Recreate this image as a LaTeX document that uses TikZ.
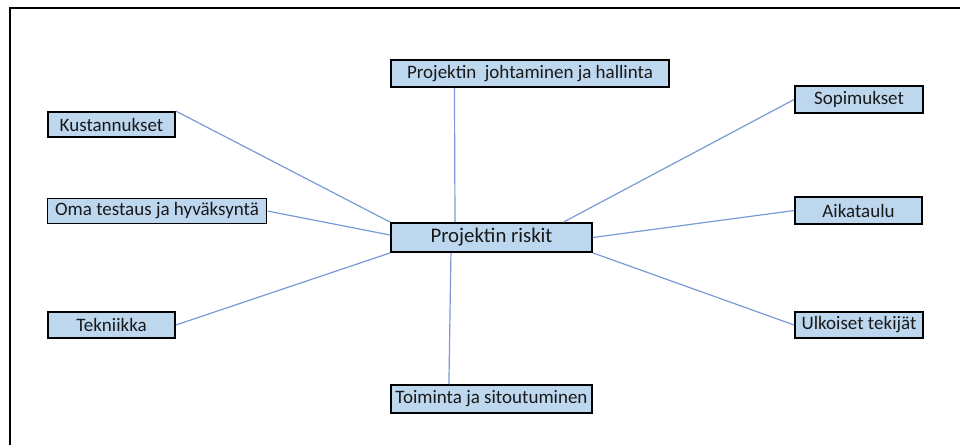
\documentclass[tikz,border=0pt]{standalone}
\usepackage{fontspec}
\setmainfont{Carlito}
\usetikzlibrary{calc}
\definecolor{boxfill}{RGB}{189,215,238}
\definecolor{linkblue}{RGB}{122,154,214}
\definecolor{txt}{RGB}{25,25,25}
\tikzset{
  riskbox/.style={draw=black, line width=1.8pt, fill=boxfill, rectangle,
    inner sep=0pt, text=txt, font=\fontsize{19}{21}\selectfont},
  link/.style={draw=linkblue, line width=1.2pt}
}
\begin{document}
\begin{tikzpicture}[x=1pt,y=-1pt]
\useasboundingbox (0,0) rectangle (960,445);
% page frame
\draw[line width=2.6pt, black] (10,445) -- (10,8) -- (960,8);

% central node
\node[riskbox, minimum width=201pt, minimum height=29pt,
      font=\fontsize{20.8}{22}\selectfont] (risk) at (491.5,237.5) {Projektin riskit};

% surrounding risk areas
\node[riskbox, minimum width=278pt, minimum height=27pt] (johto) at (530,73.5) {Projektin\ \ johtaminen ja hallinta};
\node[riskbox, minimum width=127pt, minimum height=25pt] (kust) at (111.5,124.5) {Kustannukset};
\node[riskbox, minimum width=219pt, minimum height=25pt] (oma) at (157,211) {Oma testaus ja hyväksyntä};
\node[riskbox, minimum width=127pt, minimum height=26pt] (tekn) at (111.5,325) {Tekniikka};
\node[riskbox, minimum width=128pt, minimum height=27pt] (sopi) at (859,99.5) {Sopimukset};
\node[riskbox, minimum width=127pt, minimum height=27pt] (aika) at (858.5,210.5) {Aikataulu};
\node[riskbox, minimum width=128pt, minimum height=26pt] (ulko) at (859,325) {Ulkoiset tekijät};
\node[riskbox, minimum width=201pt, minimum height=28pt] (toim) at (491.5,399) {Toiminta ja sitoutuminen};

% connectors
\draw[link] ($(johto.south west)!0.23!(johto.south east)$) -- ($(risk.north west)!0.32!(risk.north east)$);
\draw[link] (kust.north east) -- (risk.north west);
\draw[link] (oma.east) -- ($(risk.north west)!0.42!(risk.south west)$);
\draw[link] (tekn.east) -- (risk.south west);
\draw[link] (sopi.west) -- ($(risk.north west)!0.855!(risk.north east)$);
\draw[link] (aika.west) -- (risk.east);
\draw[link] (ulko.west) -- (risk.south east);
\draw[link] ($(risk.south west)!0.30!(risk.south east)$) -- ($(toim.north west)!0.29!(toim.north east)$);
\end{tikzpicture}
\end{document}
